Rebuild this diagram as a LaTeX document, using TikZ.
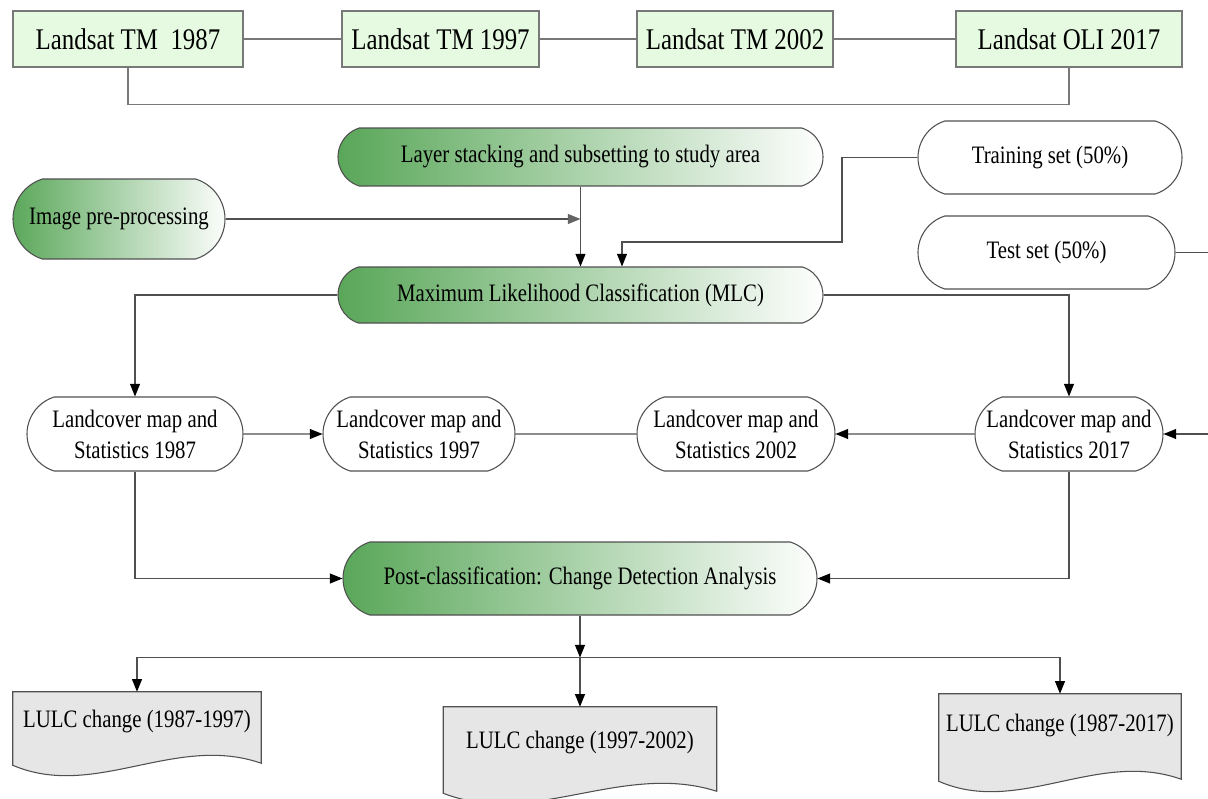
\documentclass[tikz,border=0pt]{standalone}
\usepackage{fontspec}
\setmainfont{Liberation Serif}
\newfontfamily\bodyf[FakeStretch=0.83]{Liberation Serif}
\usetikzlibrary{shapes.misc,arrows.meta,calc}
\definecolor{topfill}{RGB}{229,250,225}
\definecolor{topdraw}{RGB}{120,120,120}
\definecolor{gshade}{RGB}{88,166,88}
\definecolor{linec}{RGB}{80,80,80}
\definecolor{arrgray}{RGB}{100,100,100}
\definecolor{docfill}{RGB}{230,230,230}
\newcommand\pxu{0.75pt}
\pgfdeclarelayer{bg}
\pgfdeclarelayer{docs}
\pgfsetlayers{bg,docs,main}
\begin{document}
\begin{tikzpicture}[x=0.75pt,y=-0.75pt,
  topbox/.style={draw=topdraw, fill=topfill, line width=0.9pt, inner sep=0pt,
    font=\bodyf\fontsize{22.5}{27}\selectfont},
  pill/.style={rounded rectangle, rounded rectangle arc length=145, draw=linec,
    line width=0.8pt, inner sep=0pt, align=center,
    font=\bodyf\fontsize{18.8}{23.25}\selectfont},
  gpill/.style={pill, left color=gshade, right color=white},
  wpill/.style={pill, fill=white},
  docbox/.style={inner sep=0pt, font=\bodyf\fontsize{18.8}{23.25}\selectfont},
  docline/.style={draw=linec, fill=docfill, line width=0.8pt},
  conn/.style={draw=linec, line width=0.8pt},
  tline/.style={draw=topdraw, line width=0.9pt},
  arr/.style={conn, -{Triangle[length=9.5pt,width=7.5pt,color=black]}},
  garr/.style={conn, -{Triangle[length=9.5pt,width=7.5pt,color=arrgray]}},
]
\begin{pgfonlayer}{bg}
\fill[white] (0,0) rectangle (1208,799);
\end{pgfonlayer}
\useasboundingbox (0,0) rectangle (1208,799);

% top row
\node[topbox, minimum width=230*\pxu, minimum height=56*\pxu] (b1) at (128,39) {Landsat TM\ \ 1987};
\node[topbox, minimum width=197*\pxu, minimum height=56*\pxu] (b2) at (440.5,39) {Landsat TM 1997};
\node[topbox, minimum width=196*\pxu, minimum height=56*\pxu] (b3) at (735,39) {Landsat TM 2002};
\node[topbox, minimum width=226*\pxu, minimum height=56*\pxu] (b4) at (1069,39) {Landsat OLI 2017};
\draw[tline] (b1) -- (b2);
\draw[tline] (b2) -- (b3);
\draw[tline] (b3) -- (b4);
\draw[tline] (b1.south) |- ($(b4.south)+(0,37)$) -- (b4.south);

% processing
\node[gpill, minimum width=485*\pxu, minimum height=58*\pxu] (ls) at (580.5,157) {Layer stacking and subsetting to study area};
\node[gpill, minimum width=212*\pxu, minimum height=80*\pxu] (ip) at (119,219) {Image pre-processing};
\node[wpill, minimum width=264*\pxu, minimum height=73*\pxu] (tr) at (1050,157.5) {Training set (50\%)};
\node[wpill, minimum width=257*\pxu, minimum height=73*\pxu] (te) at (1046.5,252.5) {Test set (50\%)};
\node[gpill, minimum width=485*\pxu, minimum height=56*\pxu] (mlc) at (580.5,295) {Maximum Likelihood Classification (MLC)};

\draw[arr] (ls.south) -- (mlc.north);
\coordinate (ipj) at (ls.south |- ip.east);
\draw[garr] (ip.east) -- (ipj);
\coordinate (trk) at (842,242);
\draw[arr] (tr.west) -| (trk) -| ($(mlc.north)+(41.5,0)$);

% landcover maps
\node[wpill, minimum width=216*\pxu, minimum height=74*\pxu] (s87) at (135,434) {Landcover map and\\Statistics 1987};
\node[wpill, minimum width=192*\pxu, minimum height=74*\pxu] (s97) at (419,434) {Landcover map and\\Statistics 1997};
\node[wpill, minimum width=198*\pxu, minimum height=74*\pxu] (s02) at (736,434) {Landcover map and\\Statistics 2002};
\node[wpill, minimum width=188*\pxu, minimum height=74*\pxu] (s17) at (1069,434) {Landcover map and\\Statistics 2017};

\draw[arr] (mlc.west) -| (s87.north);
\draw[arr] (mlc.east) -| (s17.north);
\draw[arr] (s87) -- (s97);
\draw[conn] (s97) -- (s02);
\draw[arr] (s17) -- (s02);
\coordinate (tex) at (1240,252.5);
\draw[arr] (te.east) -- (tex) |- (s17.east);

% post classification
\node[gpill, minimum width=474*\pxu, minimum height=73*\pxu] (pc) at (580,578.5) {Post-classification: Change Detection Analysis};
\draw[arr] (s87.south) |- (pc.west);
\draw[arr] (s17.south) |- (pc.east);

% outputs
\node[docbox, minimum width=248*\pxu, minimum height=60*\pxu] (d1) at (137,722) {LULC change (1987-1997)};
\node[docbox, minimum width=273*\pxu, minimum height=72*\pxu] (d2) at (580,743) {LULC change (1997-2002)};
\node[docbox, minimum width=242*\pxu, minimum height=64*\pxu] (d3) at (1060,726) {LULC change (1987-2017)};
\begin{pgfonlayer}{docs}
\draw[docline] (d1.north west) -- (d1.north east) -- ($(d1.south east)+(0,11)$)
  .. controls ($(d1.south east)+(-86,-19)$) and ($(d1.south west)+(82,48)$) .. ($(d1.south west)+(0,13)$) -- cycle;
\draw[docline] (d2.north west) -- (d2.north east) -- ($(d2.south east)+(0,12)$)
  .. controls ($(d2.south east)+(-95,-18)$) and ($(d2.south west)+(90,49)$) .. ($(d2.south west)+(0,14)$) -- cycle;
\draw[docline] (d3.north west) -- (d3.north east) -- ($(d3.south east)+(0,21)$)
  .. controls ($(d3.south east)+(-84,-9)$) and ($(d3.south west)+(80,58)$) .. ($(d3.south west)+(0,23)$) -- cycle;
\end{pgfonlayer}

\coordinate (hub) at ($(pc.south)+(0,42)$);
\draw[arr] (pc.south) -- (hub);
\draw[arr] (hub) -- (d2.north);
\draw[arr] (hub) -| (d1.north);
\draw[arr] (hub) -| (d3.north);
\end{tikzpicture}
\end{document}
